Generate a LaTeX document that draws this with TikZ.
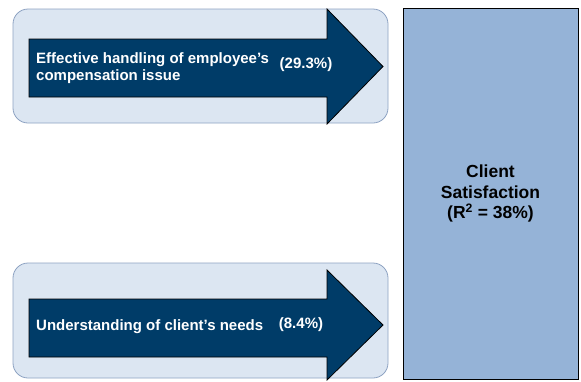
\documentclass[tikz,border=0pt]{standalone}
\usepackage{fontspec}
\setmainfont{Liberation Sans}
\usetikzlibrary{arrows.meta}
\definecolor{panelbg}{HTML}{DCE6F2}
\definecolor{panelline}{HTML}{8DA2C2}
\definecolor{navy}{HTML}{003C68}
\definecolor{targetbg}{HTML}{95B3D7}

\begin{document}
\begin{tikzpicture}[x=1pt, y=-1pt]
\tikzstyle{panel} = [rounded corners=15pt, fill=panelbg, draw=panelline, line width=0.8pt]
\tikzstyle{bigarrow} = [fill=navy, draw=black, line width=0.8pt]
\tikzstyle{factor} = [text=white, inner sep=0pt, align=left, font=\fontsize{15}{17}\selectfont\bfseries]
\tikzstyle{outcome} = [fill=targetbg, draw=black, line width=0.9pt, minimum width=175pt, minimum height=371pt, align=center, font=\fontsize{17.5}{20.5}\selectfont\bfseries]
\useasboundingbox (0,0) rectangle (581,381);
% upper factor
\draw[panel] (13,9) rectangle (388,123);
\draw[bigarrow] (29,39) -- (327,39) -- (327,9) -- (383,66.5) -- (327,124) -- (327,97) -- (29,97) -- cycle;
\node[factor, anchor=west] (handling) at (36,68) {Effective handling of employee’s\\compensation issue};
\node[factor] (handlingpct) at (306,65) {(29.3\%)};
% lower factor
\draw[panel] (13,263) rectangle (388,378);
\draw[bigarrow] (29,299) -- (327,299) -- (327,270) -- (383,325) -- (327,380) -- (327,357) -- (29,357) -- cycle;
\node[factor, anchor=west] (needs) at (36,327) {Understanding of client’s needs};
\node[factor] (needspct) at (301,325) {(8.4\%)};
% outcome
\node[outcome] (satisfaction) at (490.5,193.5) {Client\\Satisfaction\\(R\textsuperscript{2} = 38\%)};
\end{tikzpicture}
\end{document}
